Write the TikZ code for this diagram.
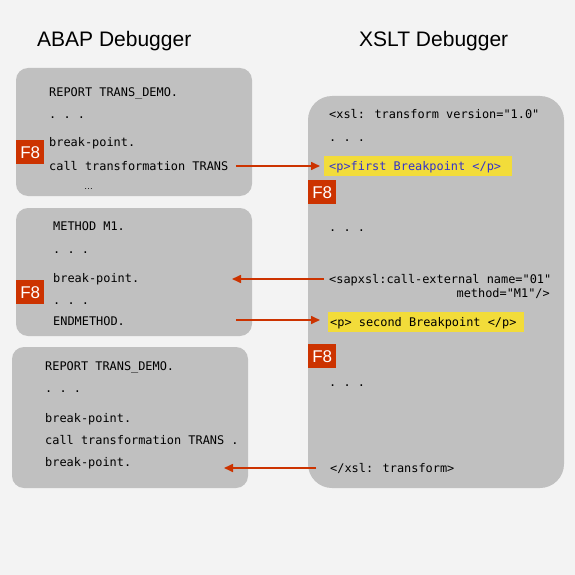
\documentclass[tikz,border=0pt]{standalone}
\usepackage{fontspec}
\setmainfont{Liberation Sans}
\newfontfamily\codefont{DejaVu Sans Mono}
\usetikzlibrary{arrows.meta}
\definecolor{bgc}{HTML}{F3F3F3}
\definecolor{panel}{HTML}{C0C0C0}
\definecolor{redc}{HTML}{CC3300}
\definecolor{yel}{HTML}{F2DC3A}
\definecolor{bluec}{HTML}{3333CC}
\tikzset{
  panelbox/.style={fill=panel, draw=none},
  code/.style={anchor=west, inner sep=0pt, font=\codefont\fontsize{11.9}{12}\selectfont, text height=8.7pt, text depth=0pt},
  title/.style={anchor=base west, inner sep=0pt, font=\fontsize{21}{23}\selectfont},
  fkey/.style={fill=redc, text=white, inner sep=0pt, minimum width=28pt, minimum height=24pt, font=\fontsize{17}{17}\selectfont, anchor=north west},
  hilite/.style={fill=yel, draw=none, anchor=north west, inner sep=0pt},
  arr/.style={draw=redc, line width=1.6pt, -{Triangle[length=9pt,width=8pt]}}
}
\begin{document}
\begin{tikzpicture}[x=1pt,y=-1pt]
\fill[bgc] (0,0) rectangle (575,575);
\useasboundingbox (0,0) rectangle (575,575);

% titles
\node[title] (t1) at (37,47) {ABAP Debugger};
\node[title] (t2) at (359,47) {XSLT Debugger};

% panels
\fill[panelbox, rounded corners=12pt] (16,68) rectangle (252,196);
\fill[panelbox, rounded corners=12pt] (16,208) rectangle (252,336);
\fill[panelbox, rounded corners=12pt] (12,347) rectangle (248,488);
\fill[panelbox, rounded corners=24pt] (308,96) rectangle (564,488);

% highlights
\node[hilite, minimum width=188pt, minimum height=20pt] (hl1) at (324,156) {};
\node[hilite, minimum width=196pt, minimum height=20pt] (hl2) at (328,312) {};

% box A
\node[code] (a1) at (49,92) {REPORT TRANS\_DEMO.};
\node[code] (a2) at (49,114) {.\ .\ .};
\node[code] (a3) at (49,142) {break-point.};
\node[code] (a4) at (49,166) {call transformation TRANS};
\node[anchor=base west, inner sep=0pt, font=\fontsize{9}{9}\selectfont] (a5) at (84,189) {\ldots};
\node[fkey] (fa) at (16,140) {F8};

% box B
\node[code] (b1) at (53,226) {METHOD M1.};
\node[code] (b2) at (53,249) {.\ .\ .};
\node[code] (b3) at (53,278) {break-point.};
\node[code] (b4) at (53,300) {.\ .\ .};
\node[code] (b5) at (53,321) {ENDMETHOD.};
\node[fkey] (fb) at (16,280) {F8};

% box C
\node[code] (c1) at (45,366) {REPORT TRANS\_DEMO.};
\node[code] (c2) at (45,388) {.\ .\ .};
\node[code] (c3) at (45,418) {break-point.};
\node[code] (c4) at (45,440) {call transformation TRANS .};
\node[code] (c5) at (45,462) {break-point.};

% right box
\node[code] (x1) at (329,114) {<xsl: transform version="1.0"};
\node[code] (x2) at (329,137) {.\ .\ .};
\node[code, text=bluec] (x3) at (329,166) {<p>first Breakpoint </p>};
\node[fkey] (fx1) at (308,180) {F8};
\node[code] (x4) at (329,227) {.\ .\ .};
\node[code] (x5) at (329,279) {<sapxsl:call-external name="01"};
\node[code, anchor=east] (x6) at (550,293) {method="M1"/>};
\node[code] (x7) at (330,322) {<p> second Breakpoint </p>};
\node[fkey] (fx2) at (308,344) {F8};
\node[code] (x8) at (329,382) {.\ .\ .};
\node[code] (x9) at (330,468) {</xsl: transform>};

% arrow end points
\coordinate (s1) at (236,166);
\coordinate (e2) at (232,279);
\coordinate (s3) at (236,320);
\coordinate (e4) at (224,468);

% arrows
\draw[arr, shorten >=4pt] (s1) -- (s1 -| hl1.west);
\draw[arr, shorten <=5pt] (x5.west) -- (e2);
\draw[arr, shorten >=8pt] (s3) -- (s3 -| hl2.west);
\draw[arr, shorten <=14pt] (x9.west) -- (e4);
\end{tikzpicture}
\end{document}
